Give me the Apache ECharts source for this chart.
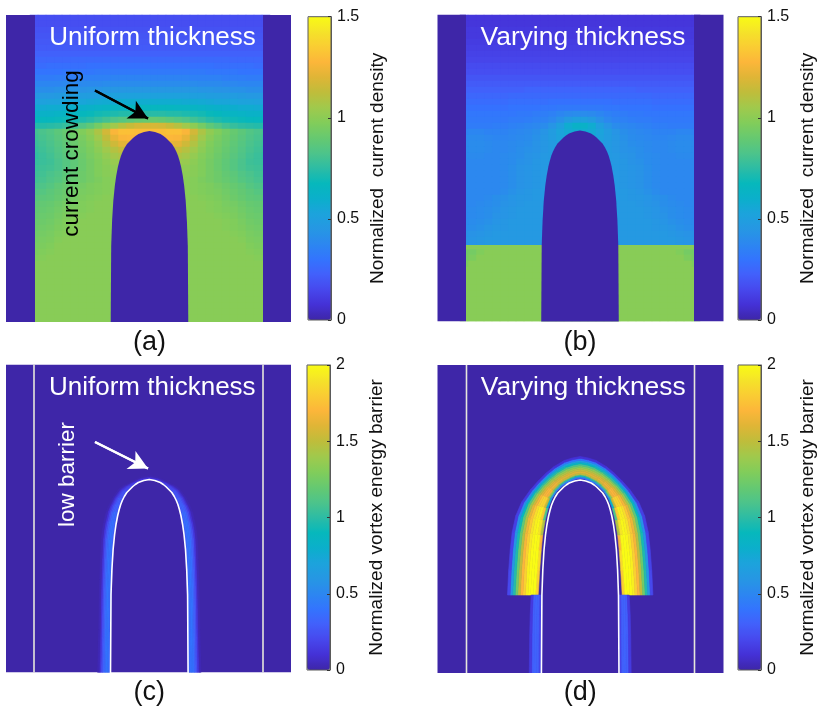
<!DOCTYPE html>
<html><head><meta charset="utf-8"><style>html,body{margin:0;background:#fff}#c{width:822px;height:710px}</style>
<script src="https://cdn.jsdelivr.net/npm/echarts@6/dist/echarts.min.js"></script></head><body><div id="c"></div>
<script>
const parula=['#3E26A8','#4431D6','#4748ED','#4260FB','#3374FE','#2C87F0','#2697E3','#1CA3DC','#0BAFCB','#06B8BC','#2DBCA4','#4DC48A','#66C970','#82CD5A','#A0C94C','#BFBD3B','#DFB536','#FCB63A','#FACC33','#F5E329','#F9FB15'];
// current density ×100, rows top→bottom, columns centre→edge (half field, read as mirror-symmetric)
const fieldA=[
[17,17,17,17,17,17,17,17,17,17,17,17,17,17,17],
[17,17,17,17,17,17,17,17,17,17,17,17,17,17,17],
[18,18,18,18,18,18,18,18,18,18,18,18,18,18,18],
[19,19,19,19,19,19,19,19,19,19,19,19,19,19,19],
[20,20,20,20,20,20,20,20,20,20,20,20,20,20,20],
[21,21,21,21,21,21,21,21,21,21,21,21,21,21,21],
[23,23,23,23,23,23,23,23,23,23,23,23,23,23,23],
[26,26,26,26,26,26,26,26,26,26,25,25,25,25,25],
[29,29,29,29,29,29,29,29,28,28,28,28,28,27,27],
[32,32,32,32,32,32,32,31,31,31,31,30,30,30,30],
[36,36,36,36,36,35,35,35,35,34,34,34,33,33,33],
[40,40,40,40,40,40,39,39,39,38,38,37,37,37,37],
[45,45,45,45,45,45,44,44,43,43,42,42,41,41,41],
[51,51,51,51,51,50,50,49,49,48,48,47,46,46,45],
[58,58,58,58,57,57,56,55,54,54,53,52,52,51,51],
[66,66,66,65,65,64,63,62,61,60,59,58,58,57,57],
[74,74,73,73,72,71,70,68,67,65,64,63,62,62,62],
[90,89,87,85,83,80,77,74,72,70,69,68,67,67,67],
[118,117,114,110,105,100,94,88,84,80,77,75,74,73,73],
[130,130,131,131,127,117,108,101,97,93,90,87,84,82,80],
[128,128,128,127,122,113,105,99,95,92,89,86,83,81,79],
[122,122,122,121,116,109,102,97,94,91,88,85,82,80,78],
[114,114,114,114,110,105,100,96,93,90,87,84,81,79,77],
[108,108,108,108,106,102,98,95,92,89,86,83,80,78,76],
[104,104,104,104,103,100,97,94,91,88,85,82,79,78,77],
[101,101,101,101,101,99,97,94,91,88,85,82,80,79,78],
[100,100,100,100,100,99,97,94,92,89,87,84,82,80,79],
[100,100,100,100,99,98,96,94,92,90,88,85,83,81,80],
[99,99,99,99,99,98,97,96,94,92,90,88,85,83,82],
[99,99,99,99,99,98,97,96,95,93,91,89,87,85,84],
[99,99,99,99,99,99,98,97,96,94,92,90,88,87,86],
[99,99,99,99,99,99,99,98,97,95,94,92,90,89,88],
[99,99,99,99,99,99,99,98,97,96,95,93,91,90,89],
[99,99,99,99,99,99,99,99,98,97,96,94,92,91,90],
[99,99,99,99,99,99,99,99,99,98,97,95,93,92,91],
[99,99,99,99,99,99,99,99,99,98,97,96,94,93,92],
[99,99,99,99,99,99,99,99,99,99,98,97,95,94,93],
[99,99,99,99,99,99,99,99,99,99,99,98,96,95,94],
[99,99,99,99,99,99,99,99,99,99,99,99,97,96,95],
[99,99,99,99,99,99,99,99,99,99,99,99,98,97,96],
[99,99,99,99,99,99,99,99,99,99,99,99,99,98,97],
[99,99,99,99,99,99,99,99,99,99,99,99,99,99,99],
[99,99,99,99,99,99,99,99,99,99,99,99,99,99,99],
[99,99,99,99,99,99,99,99,99,99,99,99,99,99,99],
[99,99,99,99,99,99,99,99,99,99,99,99,99,99,99],
[99,99,99,99,99,99,99,99,99,99,99,99,99,99,99],
[99,99,99,99,99,99,99,99,99,99,99,99,99,99,99],
[99,99,99,99,99,99,99,99,99,99,99,99,99,99,99],
[99,99,99,99,99,99,99,99,99,99,99,99,99,99,99],
[99,99,99,99,99,99,99,99,99,99,99,99,99,99,99],
[99,99,99,99,99,99,99,99,99,99,99,99,99,99,99]];
const fieldB=[
[9,9,9,9,9,9,9,9,9,9,9,9,9,9,9],
[9,9,9,9,9,9,9,9,9,9,9,9,9,9,9],
[10,10,10,10,10,10,10,10,10,10,10,10,10,10,10],
[10,10,10,10,10,10,10,10,10,10,10,10,10,10,10],
[11,11,11,11,11,11,11,11,11,11,11,11,11,11,11],
[12,12,12,12,12,12,12,12,12,12,12,12,12,12,12],
[13,13,13,13,13,13,13,13,13,13,13,13,13,13,13],
[14,14,14,14,14,14,14,14,14,14,14,14,14,14,14],
[16,16,16,16,16,16,16,16,16,16,16,16,16,16,16],
[17,17,17,17,17,17,17,17,17,17,17,17,17,17,17],
[19,19,19,19,19,19,19,19,19,19,19,19,19,19,19],
[21,21,21,21,21,21,21,21,21,21,21,21,21,21,21],
[24,24,24,24,24,24,24,23,23,23,23,23,23,23,23],
[26,26,26,26,26,26,26,26,26,25,25,25,25,25,25],
[29,29,29,29,28,28,28,28,28,27,27,27,27,27,27],
[32,32,32,31,31,30,30,30,30,29,29,29,29,29,29],
[40,39,37,35,34,33,32,32,31,31,31,31,31,31,31],
[50,47,42,38,36,35,34,33,33,32,32,32,32,32,32],
[62,58,50,44,40,38,37,36,35,34,34,33,33,33,33],
[58,56,53,48,44,41,39,38,37,36,36,36,37,37,36],
[55,54,52,48,45,42,40,39,38,37,37,38,39,39,38],
[52,52,50,47,45,43,41,40,39,38,38,39,40,40,39],
[50,50,49,47,45,43,42,41,39,38,38,39,40,40,39],
[48,48,48,47,46,44,43,41,40,39,38,38,39,39,39],
[47,47,47,46,46,45,43,42,40,39,38,38,38,38,38],
[46,46,46,46,46,45,44,43,41,39,38,38,38,38,38],
[46,46,46,46,46,45,44,43,41,39,38,38,38,38,38],
[46,46,46,46,46,45,44,43,41,39,38,38,38,38,38],
[46,46,46,46,46,45,44,43,41,39,38,38,38,38,38],
[46,46,46,46,46,46,45,44,42,40,38,38,38,38,38],
[46,46,46,46,46,46,45,45,44,42,41,39,38,38,38],
[46,46,46,46,46,46,46,45,44,43,41,40,39,38,38],
[46,46,46,46,46,46,46,46,45,44,42,41,40,39,38],
[46,46,46,46,46,46,46,46,45,44,43,41,40,39,38],
[46,46,46,46,46,46,46,46,46,45,44,42,41,40,39],
[46,46,46,46,46,46,46,46,46,45,45,44,42,41,40],
[46,46,46,46,46,46,46,46,46,46,46,45,44,43,42],
[46,46,46,46,46,46,46,46,46,46,46,46,45,44,43],
[46,46,46,46,46,46,46,46,46,46,46,46,45,44,43],
[99,99,99,99,99,99,99,99,99,99,99,99,97,94,93],
[99,99,99,99,99,99,99,99,99,99,99,99,99,96,94],
[99,99,99,99,99,99,99,99,99,99,99,99,99,99,96],
[99,99,99,99,99,99,99,99,99,99,99,99,99,99,99],
[99,99,99,99,99,99,99,99,99,99,99,99,99,99,99],
[99,99,99,99,99,99,99,99,99,99,99,99,99,99,99],
[99,99,99,99,99,99,99,99,99,99,99,99,99,99,99],
[99,99,99,99,99,99,99,99,99,99,99,99,99,99,99],
[99,99,99,99,99,99,99,99,99,99,99,99,99,99,99],
[99,99,99,99,99,99,99,99,99,99,99,99,99,99,99],
[99,99,99,99,99,99,99,99,99,99,99,99,99,99,99],
[99,99,99,99,99,99,99,99,99,99,99,99,99,99,99]];
// notch outline: half width and depth below its apex
const domeHalfWidth=[0,5.5,11,14,16.5,19,22.5,25,27,28.6,30.1,31.6,33.3,34.7,36.2,37.4,38.3,38.8];
const domeDepth=[0,1,3,5,7,9.5,13,17,21,25,30,36,45,55,70,90,115,195];
// barrier halo of (c): [half width, depth] along inner and outer edge, values ×100
const haloCInner=[[38.8,195],[38.6,150],[38.2,120],[37.6,100],[36.8,80],[35.6,60],[34.2,50],[32.4,40],[30.6,32],[28.2,24],[25.5,18],[21.5,12],[16.5,7],[11,3],[5.5,1],[0,0]];
const haloCOuter=[[51.7,195],[50.5,150],[50,120],[49.5,100],[48.8,80],[48,60],[47,51],[45.5,42.7],[43,32],[40.5,26],[36.5,18],[30,9],[24,5],[18,2],[9,-2.5],[0,-4.5]];
const haloCValues=[
[30,38,40,38,32,24,12,3],[30,38,40,38,32,24,12,3],[30,38,40,38,32,24,12,3],[30,38,40,38,32,24,12,3],[30,38,40,38,32,24,12,3],[29,37,39,37,31,23,12,3],
[28,36,38,36,30,22,12,3],[26,34,36,34,28,20,10,3],[24,30,32,30,26,18,10,2],[22,28,30,28,22,16,8,2],[20,25,26,24,20,14,8,2],[17,21,22,20,16,11,6,2],[14,17,18,16,12,9,4,1],[12,14,14,12,10,7,3,1],[10,12,12,10,8,5,2,1],[10,12,12,10,8,5,2,1]];
// barrier band of (d)
const bandDInner=[[42,115],[40.5,90],[39,70],[37.5,55],[35,40],[32,28],[28.5,19],[24,12],[19,7],[14,3.5],[8.5,1],[4,-1],[0,-1.5]];
const bandDOuter=[[72.7,115],[71.5,90],[70,70],[68,52],[64.5,36],[58.5,22],[50,10],[42,1],[34,-7],[26,-13.5],[16,-19.5],[8,-22],[0,-23.5]];
const bandDValues=[
[180,200,200,200,195,182,170,152,125,98,62,20],[185,200,200,200,195,182,170,150,122,96,60,18],[170,198,200,198,192,180,168,148,120,94,58,18],
[145,190,198,196,190,178,165,146,118,92,56,16],[110,178,194,194,188,176,162,144,116,90,54,16],[80,152,182,184,180,168,156,138,112,86,52,14],
[60,130,165,170,168,160,148,130,106,82,50,14],[50,115,158,165,162,154,142,124,102,78,48,12],[45,105,152,162,158,150,138,120,98,76,46,12],
[42,100,150,160,156,146,134,116,94,72,44,10],[40,96,148,160,154,144,130,112,90,68,40,10],[40,96,148,160,154,142,128,110,88,66,40,10]];
const stripDInner=[[38.8,115],[39,135],[39,155],[39.2,195]];
const stripDOuter=[[49,115],[50,135],[50.5,155],[51,195]];
const stripDValues=[[18,30,32,30,14],[18,30,32,30,14],[18,30,32,30,14],[18,30,32,30,14]];
const arrowA=[[-54.5,75.5],[-1.5,103.5]];
const arrowC=[[-54.3,77.5],[-1.3,104]];

const panels=[
 {left:6,top:15,w:285,h:307,cx:149.5,apex:116,fx:[-114.5,113.5],vmax:1.5,field:fieldA,title:'Uniform thickness',tsize:26,tag:'(a)',cbLeft:308,cbTop:16.7,cbH:303.3,lift:-3,name:'Normalized  current density'},
 {left:437.5,top:14.5,w:286,h:307,cx:580,apex:116,fx:[-114,114],vmax:1.5,field:fieldB,title:'Varying thickness',tsize:26.4,tag:'(b)',cbLeft:738,cbTop:16.7,cbH:303.3,lift:-3,name:'Normalized  current density'},
 {left:6,top:364.5,w:285,h:308,cx:149.3,apex:115,fx:[-115.3,113.7],vmax:2,meshes:[[haloCInner,haloCOuter,haloCValues]],title:'Uniform thickness',tsize:26,tag:'(c)',cbLeft:307,cbTop:365,cbH:305,lift:0,name:'Normalized vortex energy barrier'},
 {left:437.5,top:365,w:286,h:308,cx:580.2,apex:115,fx:[-113.7,114.3],vmax:2,meshes:[[bandDInner,bandDOuter,bandDValues],[stripDInner,stripDOuter,stripDValues]],title:'Varying thickness',tsize:26.4,tag:'(d)',cbLeft:738,cbTop:365,cbH:305,lift:0,name:'Normalized vortex energy barrier'}
];
const grid=[],xAxis=[],yAxis=[],series=[],visualMap=[],graphic=[];
const font='"Liberation Sans",Arial,sans-serif';
function text(t,x,y,size,fill,rot){graphic.push({type:'text',x,y,rotation:rot||0,z:50,silent:true,style:{text:t,x:0,y:0,fill,font:size+'px '+font,align:'center',verticalAlign:'middle'}});}
panels.forEach(p=>{
 const own=[];
 const xr=[p.left-p.cx,p.left+p.w-p.cx];
 const add=(g)=>{grid.push(g);return grid.length-1;};
 const polys=[];
 const dome=[];
 domeHalfWidth.forEach((w,i)=>dome.unshift([-w,p.apex+domeDepth[i]]));
 domeHalfWidth.forEach((w,i)=>{if(i)dome.push([w,p.apex+domeDepth[i]]);});
 const gi=add({left:p.left,top:p.top,width:p.w,height:p.h,show:false});
 xAxis.push({type:'value',gridIndex:gi,min:xr[0],max:xr[1],show:false});
 yAxis.push({type:'value',gridIndex:gi,min:0,max:p.h,inverse:true,show:false});
 const ov=xAxis.length-1;
 if(p.field){
  const n=p.field[0].length,rows=p.field.length;
  const fg=add({left:Math.round(p.cx)-8*n,top:Math.round(p.top),width:16*n,height:6*rows,show:false});
  xAxis.push({type:'category',gridIndex:fg,show:false,data:Array.from({length:2*n},(_,i)=>i)});
  yAxis.push({type:'category',gridIndex:fg,show:false,inverse:true,data:Array.from({length:rows},(_,i)=>i)});
  const ai=xAxis.length-1,cells=[];
  p.field.forEach((row,r)=>row.forEach((v,c)=>{cells.push([n+c,r,v/100],[n-1-c,r,v/100]);}));
  own.push(series.length);
  series.push({type:'heatmap',xAxisIndex:ai,yAxisIndex:ai,data:cells,silent:true,z:1,progressive:0,emphasis:{disabled:true}});
  polys.push({v:.99,pts:[[p.fx[0],p.h-2],[p.fx[1],p.h-2],[p.fx[1],p.h],[p.fx[0],p.h]]});
  polys.push({v:0,pts:[[xr[0],0],[p.fx[0],0],[p.fx[0],p.h],[xr[0],p.h]]});
  polys.push({v:0,pts:[[p.fx[1],0],[xr[1],0],[xr[1],p.h],[p.fx[1],p.h]]});
  if(p.field===fieldB){
   [-1,1].forEach(s=>polys.push({v:.99,pts:[[s*38,230.5],[s*p.fx[1],230.5],[s*p.fx[1],235],[s*38,235]]}));
  }
  polys.push({v:0,pts:dome});
 } else {
  polys.push({v:0,pts:[[xr[0],0],[xr[1],0],[xr[1],p.h],[xr[0],p.h]]});
 }
 own.push(series.length);
 series.push({type:'custom',xAxisIndex:ov,yAxisIndex:ov,clip:true,silent:true,z:2,encode:{x:0,y:1},
  data:polys.map((q,i)=>[i,0,q.v]),
  renderItem:(params,api)=>({type:'polygon',shape:{points:polys[api.value(0)].pts.map(a=>api.coord(a))},style:{fill:api.visual('color')}})});
 (p.meshes||[]).forEach(([inner,outer,vals])=>{
  const data=[];
  for(let k=0;k<inner.length-1;k++)vals[k].forEach((v,j)=>{data.push([k,j,v/100,-1],[k,j,v/100,1]);});
  const cols=vals[0].length;
  const at=(k,t)=>[inner[k][0]+(outer[k][0]-inner[k][0])*t,p.apex+inner[k][1]+(outer[k][1]-inner[k][1])*t];
  own.push(series.length);
  series.push({type:'custom',xAxisIndex:ov,yAxisIndex:ov,clip:true,silent:true,z:3,encode:{x:0,y:1},data,
   renderItem:(params,api)=>{
    const k=api.value(0),j=api.value(1),s=api.value(3),c=api.visual('color');
    const pts=[at(k,j/cols),at(k,(j+1)/cols),at(k+1,(j+1)/cols),at(k+1,j/cols)].map(a=>api.coord([s*a[0],a[1]]));
    return {type:'polygon',shape:{points:pts},style:{fill:c,stroke:c,lineWidth:.6}};
   }});
 });
 if(!p.field){
  series.push({type:'line',xAxisIndex:ov,yAxisIndex:ov,data:dome,symbol:'none',silent:true,z:5,lineStyle:{color:'#fff',width:1.6}});
  p.fx.forEach(x=>series.push({type:'line',xAxisIndex:ov,yAxisIndex:ov,data:[[x,0],[x,p.h]],symbol:'none',silent:true,z:5,lineStyle:{color:'#e6e6dc',width:1.6}}));
 }
 const arrow=p.tag==='(a)'?[arrowA,'#000']:p.tag==='(c)'?[arrowC,'#fff']:null;
 if(arrow){
  series.push({type:'line',xAxisIndex:ov,yAxisIndex:ov,data:arrow[0],symbol:'none',silent:true,z:6,lineStyle:{color:arrow[1],width:2.2},
   markLine:{silent:true,symbol:['none','arrow'],symbolSize:[15,19],label:{show:false},lineStyle:{color:arrow[1],width:2.2,type:'solid'},
    data:[[{coord:arrow[0][0]},{coord:arrow[0][1]}]]}});
 }
 visualMap.push({type:'continuous',min:0,max:p.vmax,dimension:2,seriesIndex:own.concat(),inRange:{color:parula},left:p.cbLeft,top:p.cbTop,itemWidth:23,itemHeight:p.cbH,padding:0,calculable:false,text:null,hoverLink:false,showLabel:false,orient:'vertical',z:4,silent:true});
 const cg=add({left:p.cbLeft,top:p.cbTop,width:23,height:p.cbH,show:true,backgroundColor:'transparent',borderColor:'#5a5a5a',borderWidth:1,z:6});
 xAxis.push({type:'value',gridIndex:cg,show:false,min:0,max:1});
 yAxis.push({type:'value',gridIndex:cg,min:0,max:p.vmax,interval:.5,position:'right',z:7,splitLine:{show:false},
  axisLine:{show:true,onZero:false,lineStyle:{color:'#5a5a5a',width:1}},axisTick:{show:true,inside:true,length:3,lineStyle:{color:'#333'}},
  axisLabel:{show:true,color:'#111',fontFamily:font,fontSize:16,margin:6,padding:[p.lift,0,0,0],align:'left',formatter:v=>String(v),showMinLabel:true,showMaxLabel:true,hideOverlap:false},
  name:p.name,nameLocation:'middle',nameRotate:90,nameGap:37,nameTextStyle:{color:'#111',fontFamily:font,fontSize:19}});
 text(p.title,p.cx+3,p.top+23,p.tsize,'#fff');
 text(p.tag,p.cx,p.top+328,27,'#111');
});
text('current crowding',72,153.5,22.5,'#000',Math.PI/2);
text('low barrier',68,474.5,22.5,'#fff',Math.PI/2);
const chart=echarts.init(document.getElementById('c'),null,{renderer:'canvas'});
chart.setOption({animation:false,backgroundColor:'#fff',grid,xAxis,yAxis,series,visualMap,graphic:{elements:graphic},tooltip:{show:false}});
</script></body></html>
